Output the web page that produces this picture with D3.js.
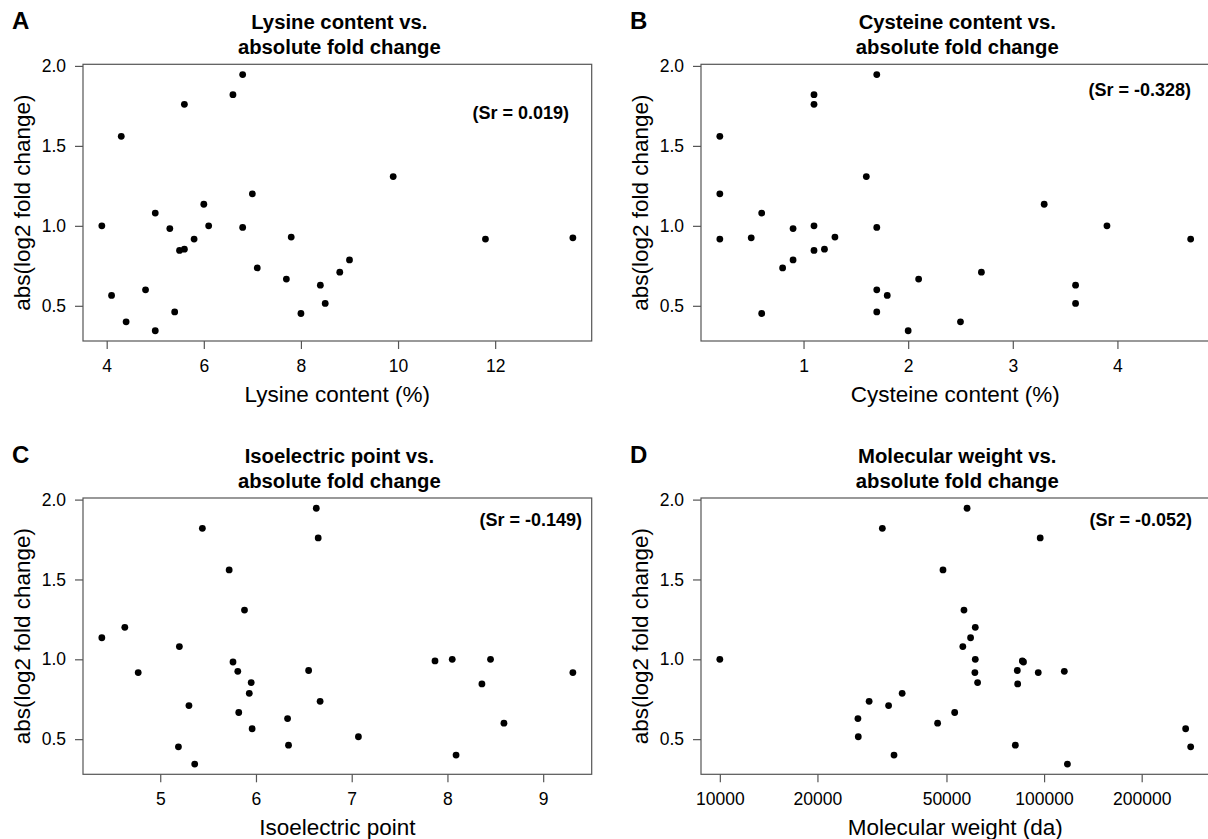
<!DOCTYPE html>
<html>
<head>
<meta charset="utf-8">
<script src="https://cdn.jsdelivr.net/npm/d3@7"></script>
<style>
  html, body { margin: 0; padding: 0; background: #fff; }
  svg { display: block; }
  text { font-family: "Liberation Sans", Arial, Helvetica, sans-serif; fill: #000; }
</style>
</head>
<body>
<svg id="chart" width="1208" height="839"></svg>
<script>
// ---------- data ----------
const foldTicks = [0.5, 1.0, 1.5, 2.0];

// Panel A: Lysine content (%)
const lysineX = [3.9, 4.1, 4.3, 4.4, 4.8, 5.0, 5.0, 5.3, 5.4, 5.5, 5.6, 5.6, 5.8, 6.0, 6.1, 6.6, 6.8, 6.8, 7.0, 7.1, 7.7, 7.8, 8.0, 8.4, 8.5, 8.8, 9.0, 9.9, 11.8, 13.6];
const lysineY = [1.00, 0.565, 1.56, 0.40, 0.60, 1.08, 0.344, 0.983, 0.462, 0.846, 1.76, 0.854, 0.917, 1.135, 1.00, 1.82, 1.946, 0.99, 1.20, 0.737, 0.667, 0.93, 0.452, 0.629, 0.515, 0.71, 0.787, 1.308, 0.917, 0.925];
const lysineTicks = [4, 6, 8, 10, 12];

// Panel B: Cysteine content (%)
const cysteineX = [0.2, 0.2, 0.2, 0.5, 0.6, 0.6, 0.8, 0.9, 0.9, 1.1, 1.1, 1.1, 1.1, 1.2, 1.3, 1.6, 1.7, 1.7, 1.7, 1.7, 1.8, 2.0, 2.1, 2.5, 2.7, 3.3, 3.6, 3.6, 3.9, 4.7];
const cysteineY = [1.56, 1.20, 0.917, 0.925, 1.08, 0.452, 0.737, 0.983, 0.787, 1.82, 1.76, 1.00, 0.846, 0.854, 0.93, 1.308, 1.946, 0.99, 0.60, 0.462, 0.565, 0.344, 0.667, 0.40, 0.71, 1.135, 0.629, 0.515, 1.00, 0.917];
const cysteineTicks = [1, 2, 3, 4];

// Panel C: Isoelectric point
const pIX = [4.39, 4.63, 4.77, 5.20, 5.19, 5.30, 5.36, 5.44, 5.72, 5.76, 5.81, 5.82, 5.88, 5.93, 5.95, 5.96, 6.33, 6.34, 6.55, 6.63, 6.65, 6.67, 7.07, 7.87, 8.05, 8.09, 8.36, 8.45, 8.59, 9.31];
const pIY = [1.135, 1.20, 0.917, 1.08, 0.452, 0.71, 0.344, 1.82, 1.56, 0.983, 0.925, 0.667, 1.308, 0.787, 0.854, 0.565, 0.629, 0.462, 0.93, 1.946, 1.76, 0.737, 0.515, 0.99, 1.00, 0.40, 0.846, 1.00, 0.60, 0.917];
const pITicks = [5, 6, 7, 8, 9];

// Panel D: Molecular weight (da), log axis
const mwX = [10000, 26660, 26730, 28870, 31710, 33150, 34450, 36500, 46950, 48780, 53000, 56160, 56620, 57880, 59340, 61350, 61350, 61180, 62370, 81540, 82680, 82900, 85680, 86400, 95940, 97280, 115450, 118030, 273300, 283200];
const mwY = [1.00, 0.629, 0.515, 0.737, 1.82, 0.71, 0.40, 0.787, 0.60, 1.56, 0.667, 1.08, 1.308, 1.946, 1.135, 1.20, 1.00, 0.917, 0.854, 0.462, 0.93, 0.846, 0.99, 0.983, 0.917, 1.76, 0.925, 0.344, 0.565, 0.452];
const mwTicks = [10000, 20000, 50000, 100000, 200000];

const panelLetters = ["A", "B", "C", "D"];
const titles1 = ["Lysine content vs.", "Cysteine content vs.", "Isoelectric point vs.", "Molecular weight vs."];
const titles2 = ["absolute fold change", "absolute fold change", "absolute fold change", "absolute fold change"];
const xTitles = ["Lysine content (%)", "Cysteine content (%)", "Isoelectric point", "Molecular weight (da)"];
const yTitle = "abs(log2 fold change)";
const srLabels = ["(Sr = 0.019)", "(Sr = -0.328)", "(Sr = -0.149)", "(Sr = -0.052)"];

// ---------- layout ----------
const svg = d3.select("#chart");
svg.append("rect").attr("width", 1208).attr("height", 839).attr("fill", "#fff");

const boxes = [
  { l: 83,  r: 591.7,  t: 64.3, b: 341 },
  { l: 701, r: 1209.5, t: 64.3, b: 341 },
  { l: 83,  r: 591.7,  t: 498,  b: 774.3 },
  { l: 701, r: 1209.5, t: 498,  b: 774.3 }
];
const srPos = [
  { x: 569, y: 118.5 },
  { x: 1191, y: 96 },
  { x: 582, y: 526 },
  { x: 1192, y: 526 }
];

const panels = [
  { xs: lysineX, ys: lysineY, ticks: lysineTicks, log: false, fmt: d3.format("d") },
  { xs: cysteineX, ys: cysteineY, ticks: cysteineTicks, log: false, fmt: d3.format("d") },
  { xs: pIX, ys: pIY, ticks: pITicks, log: false, fmt: d3.format("d") },
  { xs: mwX, ys: mwY, ticks: mwTicks, log: true, fmt: d3.format("d") }
];

// R-style 4% range extension
function padDomain(vals, log) {
  const v = log ? vals.map(Math.log10) : vals;
  const [lo, hi] = d3.extent(v);
  const p = (hi - lo) * 0.04;
  return log ? [Math.pow(10, lo - p), Math.pow(10, hi + p)] : [lo - p, hi + p];
}

const LINE = "#555";

panels.forEach((p, i) => {
  const bx = boxes[i];
  const g = svg.append("g");

  const x = (p.log ? d3.scaleLog() : d3.scaleLinear())
    .domain(padDomain(p.xs, p.log)).range([bx.l, bx.r]);
  const y = d3.scaleLinear()
    .domain(padDomain(p.ys, false)).range([bx.b, bx.t]);

  // box
  g.append("rect")
    .attr("x", bx.l).attr("y", bx.t)
    .attr("width", bx.r - bx.l).attr("height", bx.b - bx.t)
    .attr("fill", "none").attr("stroke", LINE).attr("stroke-width", 1.2);

  // x axis
  const xa = g.append("g").attr("transform", `translate(0,${bx.b})`)
    .call(d3.axisBottom(x).tickValues(p.ticks).tickFormat(p.fmt).tickSize(8).tickPadding(10.5));
  xa.select(".domain").remove();
  xa.selectAll("line").attr("stroke", LINE).attr("stroke-width", 1.2);
  xa.selectAll("text").attr("font-size", 17.5).attr("font-family", "Liberation Sans, Arial, sans-serif").attr("fill", "#000");

  // y axis
  const ya = g.append("g").attr("transform", `translate(${bx.l},0)`)
    .call(d3.axisLeft(y).tickValues(foldTicks).tickFormat(d3.format(".1f")).tickSize(8).tickPadding(9));
  ya.select(".domain").remove();
  ya.selectAll("line").attr("stroke", LINE).attr("stroke-width", 1.2);
  ya.selectAll("text").attr("font-size", 17.5).attr("font-family", "Liberation Sans, Arial, sans-serif").attr("fill", "#000");

  // points
  g.append("g").selectAll("circle")
    .data(d3.range(p.xs.length))
    .join("circle")
    .attr("cx", j => x(p.xs[j]))
    .attr("cy", j => y(p.ys[j]))
    .attr("r", 3.4)
    .attr("fill", "#000");

  const cx = (bx.l + bx.r) / 2 + 2;

  // titles
  g.append("text").attr("x", cx).attr("y", bx.t - 35)
    .attr("text-anchor", "middle").attr("font-size", 20.3).attr("font-weight", "bold")
    .text(titles1[i]);
  g.append("text").attr("x", cx).attr("y", bx.t - 10.5)
    .attr("text-anchor", "middle").attr("font-size", 20.3).attr("font-weight", "bold")
    .text(titles2[i]);

  // panel letter
  g.append("text").attr("x", bx.l - 71).attr("y", bx.t - 35)
    .attr("font-size", 24).attr("font-weight", "bold")
    .text(panelLetters[i]);

  // x title
  g.append("text").attr("x", (bx.l + bx.r) / 2).attr("y", bx.b + 61)
    .attr("text-anchor", "middle").attr("font-size", 22.5)
    .text(xTitles[i]);

  // y title
  const cy = (bx.t + bx.b) / 2;
  g.append("text")
    .attr("transform", `translate(${bx.l - 61},${cy}) rotate(-90)`)
    .attr("text-anchor", "middle").attr("dominant-baseline", "central")
    .attr("font-size", 22.5)
    .text(yTitle);

  // Spearman label
  g.append("text").attr("x", srPos[i].x).attr("y", srPos[i].y)
    .attr("text-anchor", "end").attr("font-size", 18).attr("font-weight", "bold")
    .text(srLabels[i]);
});
</script>
</body>
</html>
